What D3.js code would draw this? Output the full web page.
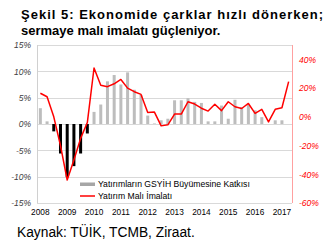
<!DOCTYPE html>
<html><head><meta charset="utf-8">
<script src="https://cdn.jsdelivr.net/npm/d3@7"></script>
<style>body{margin:0;background:#fff}svg{display:block}</style>
</head><body><svg id="c" width="328" height="252"></svg>
<script>
const quarters = ["2008Q1","2008Q2","2008Q3","2008Q4","2009Q1","2009Q2","2009Q3","2009Q4",
"2010Q1","2010Q2","2010Q3","2010Q4","2011Q1","2011Q2","2011Q3","2011Q4",
"2012Q1","2012Q2","2012Q3","2012Q4","2013Q1","2013Q2","2013Q3","2013Q4",
"2014Q1","2014Q2","2014Q3","2014Q4","2015Q1","2015Q2","2015Q3","2015Q4",
"2016Q1","2016Q2","2016Q3","2016Q4","2017Q1","2017Q2"];
const yearLabels = ["2008","2009","2010","2011","2012","2013","2014","2015","2016","2017"];
// Yatırımların GSYİH büyümesine katkısı (%, left axis)
const investContrib = [3.0,0.5,-1.4,-5.6,-10.1,-8.0,-5.6,-1.8,
2.3,3.7,8.1,9.3,7.5,9.8,6.5,5.5,
1.6,0.1,0.7,1.0,4.5,4.5,4.9,4.2,
4.0,0.5,0.5,3.5,1.0,4.6,3.2,3.7,
2.6,1.3,0.0,0.7,0.7,null];
// Yatırım malı imalatı (% yıllık, right axis)
const capGoods = [16.4,14.0,0.0,-20.0,-44.0,-30.0,-15.0,-4.0,
34.0,22.0,21.0,23.0,26.0,20.0,17.5,15.6,
3.0,3.3,-6.3,-5.6,1.9,1.9,10.5,8.9,
6.0,4.0,8.7,4.3,10.5,7.0,5.8,9.3,
2.4,5.2,-3.5,5.2,6.3,24.5];
const leftTicks = [-15,-10,-5,0,5,10,15];
const rightTicks = [-60,-40,-20,0,20,40];
const legendLabels = ["Yatırımların GSYİH Büyümesine Katkısı","Yatırım Malı İmalatı"];
const titleLines = ["Şekil 5: Ekonomide çarklar hızlı dönerken;","sermaye malı imalatı güçleniyor."];
const sourceText = "Kaynak: TÜİK, TCMB, Ziraat.";

const svg = d3.select("#c");
const L = 37, R = 292, T = 45, B = 203;
const x = d3.scaleBand().domain(quarters).range([L, R]).padding(0);
const yL = d3.scaleLinear().domain([-15, 15]).range([B, T]);
const yR = d3.scaleLinear().domain([-60, 50]).range([B, T]);
const font = "Liberation Sans, Arial, sans-serif";

// gridlines
svg.append("g").selectAll("line").data(leftTicks).join("line")
  .attr("x1", L).attr("x2", R)
  .attr("y1", d => Math.round(yL(d)) + 0.5).attr("y2", d => Math.round(yL(d)) + 0.5)
  .attr("stroke", "#d9d9d9").attr("stroke-width", 1);
// left axis line
svg.append("line").attr("x1", L + 0.5).attr("x2", L + 0.5).attr("y1", T).attr("y2", B)
  .attr("stroke", "#d0d0d0");
// right axis line
svg.append("line").attr("x1", R + 0.5).attr("x2", R + 0.5).attr("y1", T).attr("y2", B)
  .attr("stroke", "#ffa0a0");

// bars
const bw = 3;
svg.append("g").selectAll("rect")
  .data(quarters.map((q, i) => ({q, v: investContrib[i]})).filter(d => d.v !== null))
  .join("rect")
  .attr("x", d => x(d.q) + x.bandwidth() / 2 - bw / 2)
  .attr("width", bw)
  .attr("y", d => Math.min(yL(d.v), yL(0)))
  .attr("height", d => Math.abs(yL(d.v) - yL(0)))
  .attr("fill", d => d.v < 0 ? "#000" : "#bdbdbd");

// line
const line = d3.line().x((d, i) => x(quarters[i]) + x.bandwidth() / 2).y(d => yR(d));
svg.append("path").datum(capGoods).attr("d", line)
  .attr("fill", "none").attr("stroke", "#ff0000").attr("stroke-width", 1.5)
  .attr("stroke-linejoin", "round");

// axes
const gL = svg.append("g").attr("transform", `translate(${L - 6},0)`)
  .call(d3.axisLeft(yL).tickValues(leftTicks).tickSize(0).tickPadding(0).tickFormat(d => d + "%"));
gL.select(".domain").remove();
gL.selectAll("text").attr("font-family", font).attr("font-size", 8.5)
  .attr("font-style", "italic").attr("fill", "#404040");

const gR = svg.append("g").attr("transform", `translate(${R + 7},0)`)
  .call(d3.axisRight(yR).tickValues(rightTicks).tickSize(0).tickPadding(0).tickFormat(d => d + "%"));
gR.select(".domain").remove();
gR.selectAll("text").attr("font-family", font).attr("font-size", 8.5)
  .attr("font-style", "italic").attr("fill", "#ff0000");

const yearTicks = yearLabels.map(y => y + "Q1");
const gX = svg.append("g").attr("transform", `translate(0,${B + 6})`)
  .call(d3.axisBottom(x).tickValues(yearTicks).tickSize(0).tickPadding(0).tickFormat(d => d.slice(0, 4)));
gX.select(".domain").remove();
gX.selectAll("text").attr("font-family", font).attr("font-size", 8.3).attr("fill", "#000");

// legend
const lg = svg.append("g");
lg.append("rect").attr("x", 80).attr("y", 182.5).attr("width", 15).attr("height", 3.5).attr("fill", "#a6a6a6");
lg.append("line").attr("x1", 80).attr("x2", 95).attr("y1", 196).attr("y2", 196)
  .attr("stroke", "#ff0000").attr("stroke-width", 1.5);
const lt = lg.selectAll("text").data(legendLabels).join("text")
  .attr("x", 98).attr("y", (d, i) => 187 + i * 12)
  .attr("font-family", font).attr("font-size", 8.5).attr("fill", "#000").text(d => d);
// fit first legend label to reference width
const w0 = lt.nodes()[0].getComputedTextLength();
lt.attr("font-size", 8.5 * 152 / w0);

// title
const tt = svg.selectAll("text.title").data(titleLines).join("text").attr("class", "title")
  .attr("x", 21).attr("y", (d, i) => 19 + i * 16)
  .attr("font-family", font).attr("font-size", 13).attr("font-weight", "bold").attr("fill", "#000")
  .text(d => d);
tt.filter((d, i) => i === 0).attr("textLength", 302).attr("lengthAdjust", "spacing");

// source
const src = svg.append("text").attr("x", 17).attr("y", 237).attr("font-family", font).attr("font-size", 13)
  .attr("fill", "#000").text(sourceText);
const ws = src.node().getComputedTextLength();
src.attr("font-size", 13 * 178 / ws);
</script></body></html>
